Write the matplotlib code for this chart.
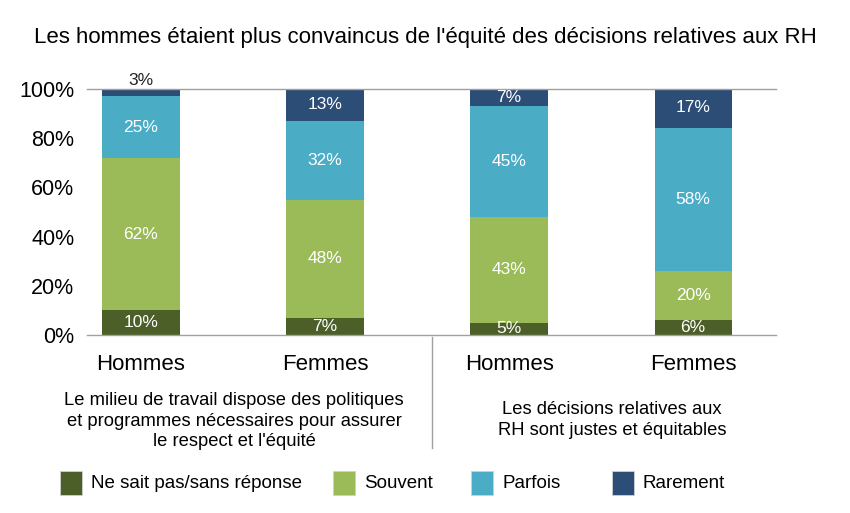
import matplotlib
matplotlib.use("Agg")
import matplotlib.pyplot as plt
import numpy as np
from matplotlib.patches import Rectangle

plt.rcParams["font.family"] = ["Liberation Sans", "DejaVu Sans"]

title = "Les hommes étaient plus convaincus de l'équité des décisions relatives aux RH"
bar_labels = ["Hommes", "Femmes", "Hommes", "Femmes"]
group_texts = [
    "Le milieu de travail dispose des politiques\net programmes nécessaires pour assurer\nle respect et l'équité",
    "Les décisions relatives aux\nRH sont justes et équitables",
]
series_names = ["Ne sait pas/sans réponse", "Souvent", "Parfois", "Rarement"]
ne_sait_pas = [10, 7, 5, 6]
souvent = [62, 48, 43, 20]
parfois = [25, 32, 45, 58]
rarement = [3, 13, 7, 17]
colors = ["#4d5f28", "#9bbb59", "#4bacc6", "#2c4d75"]

series = [ne_sait_pas, souvent, parfois, rarement]
x = np.arange(len(bar_labels))

fig = plt.figure(figsize=(8.5, 5.13), dpi=100)
ax = fig.add_axes([87 / 850, 1 - 335 / 513, (776 - 87) / 850, (335 - 89) / 513])

bottom = np.zeros(len(x))
for name, vals, col in zip(series_names, series, colors):
    vals = np.array(vals, dtype=float)
    ax.bar(x, vals, 0.42, bottom=bottom, color=col, label=name, zorder=2)
    for xi, b, v in zip(x, bottom, vals):
        if v <= 3:
            ax.text(xi, 100.3, f"{int(v)}%", ha="center", va="bottom",
                    fontsize=12.5, color="#222222")
        else:
            ax.text(xi, b + v / 2, f"{int(v)}%", ha="center", va="center",
                    fontsize=12.5, color="white")
    bottom += vals

ax.set_xlim(-0.293, 3.45)
ax.set_ylim(0, 100)
ax.set_yticks([0, 20, 40, 60, 80, 100])
ax.set_yticklabels([f"{v}%" for v in [0, 20, 40, 60, 80, 100]], fontsize=15.5)
ax.set_xticks(x)
ax.set_xticklabels(bar_labels, fontsize=16)
ax.tick_params(axis="both", length=0)
ax.tick_params(axis="y", pad=9)
ax.tick_params(axis="x", pad=14)
for side in ["left", "right"]:
    ax.spines[side].set_visible(False)
for side in ["top", "bottom"]:
    ax.spines[side].set_color("#a0a0a0")
    ax.spines[side].set_linewidth(1)

fig.text(0.5, 1 - 38 / 513, title, ha="center", va="center", fontsize=16)

fig.text(234 / 850, 1 - 421 / 513, group_texts[0], ha="center", va="center",
         fontsize=13.2, linespacing=1.25)
fig.text(612 / 850, 1 - 420 / 513, group_texts[1], ha="center", va="center",
         fontsize=13.2, linespacing=1.25)
fig.add_artist(plt.Line2D([432 / 850, 432 / 850], [1 - 337 / 513, 1 - 448 / 513],
                          color="#a0a0a0", lw=1, transform=fig.transFigure))

# legend
legend_x = [60, 333, 471, 612]
for lx, name, col in zip(legend_x, series_names, colors):
    fig.add_artist(Rectangle((lx / 850, 1 - 495 / 513), 22 / 850, 24 / 513,
                             facecolor=col, edgecolor="#d0d0d0", lw=0.6,
                             transform=fig.transFigure))
    fig.text((lx + 31) / 850, 1 - 483 / 513, name, ha="left", va="center",
             fontsize=13.5)

fig.savefig("out.png", dpi=100)
